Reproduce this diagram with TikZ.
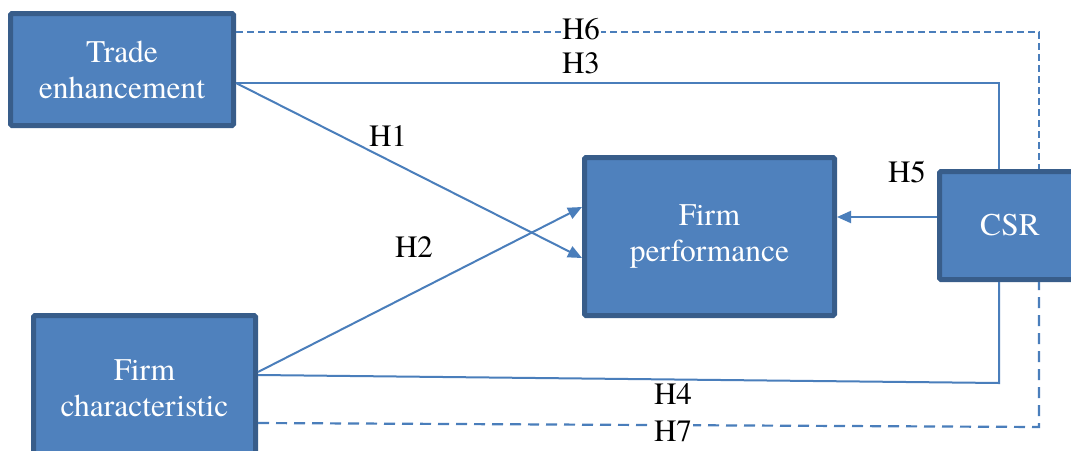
\documentclass[tikz,border=0pt]{standalone}
\usepackage{fontspec}
\setmainfont{TeX Gyre Termes}
\usetikzlibrary{arrows.meta}
\definecolor{boxfill}{HTML}{4F81BD}
\definecolor{boxline}{HTML}{385D8A}
\definecolor{conncol}{HTML}{4A7EBB}
\tikzset{
  box/.style={draw=boxline, fill=boxfill, line width=5pt, rounded corners=1.5pt,
    text=white, align=center, inner sep=0pt,
    font=\rmfamily\fontsize{31.5}{36}\selectfont},
  conn/.style={draw=conncol, line width=2pt},
  arr/.style={conn, -{Triangle[length=14pt,width=12pt]}},
  dashA/.style={draw=conncol, line width=2pt, dash pattern=on 7pt off 4pt},
  dashB/.style={draw=conncol, line width=2.2pt, dash pattern=on 11pt off 7pt},
  lbl/.style={font=\rmfamily\fontsize{31}{36}\selectfont, text=black, inner sep=1.5pt},
  lblw/.style={lbl, fill=white}
}
\begin{document}
\begin{tikzpicture}[x=1pt,y=-1pt]
\useasboundingbox (0,0) rectangle (1071,450);
\clip (0,0) rectangle (1071,450);
\fill[white] (0,0) rectangle (1071,450);
% boxes
\node[box, minimum width=223pt, minimum height=112pt] (te) at (122,69.5) {Trade\\enhancement};
\node[box, minimum width=222pt, minimum height=145pt] (fc) at (144.5,388) {Firm\\characteristic};
\node[box, minimum width=250pt, minimum height=158pt] (fp) at (709.5,236.5) {Firm\\performance};
\node[box, minimum width=141pt, minimum height=108pt] (csr) at (1010,225.5) {CSR};
% corner coordinates
\coordinate (c6) at (1039,32);
\coordinate (c3) at (999,83);
\coordinate (c4) at (999,383);
\coordinate (c7) at (1039,427);
% H6 dashed
\draw[dashA] (te.east |- c6) -- (c6) -- (c6 |- csr.north);
% H3 solid
\draw[conn] (te.east |- c3) -- (c3) -- (c3 |- csr.north);
% H1
\draw[arr] ([yshift=-13.5pt]te.east) -- ([yshift=-21.5pt]fp.west);
% H2
\draw[arr] ([yshift=16pt]fc.east) -- ([yshift=29.5pt]fp.west);
% H4
\draw[conn] ([yshift=13pt]fc.east) -- (c4) -- (c4 |- csr.south);
% H7 dashed
\draw[dashB] ([yshift=-35pt]fc.east) -- (c7) -- (c7 |- csr.south);
% H5
\draw[arr] ([yshift=8.5pt]csr.west) -- ([yshift=8.5pt]csr.west -| fp.east);
% labels
\node[lblw] (h6) at (581,29) {H6};
\node[lbl] (h3) at (581,63) {H3};
\node[lbl] (h1) at (388,136) {H1};
\node[lbl] (h2) at (414,247) {H2};
\node[lbl] (h5) at (907,172) {H5};
\node[lbl] (h4) at (673,394) {H4};
\node[lblw] (h7) at (673,431) {H7};
\end{tikzpicture}
\end{document}
